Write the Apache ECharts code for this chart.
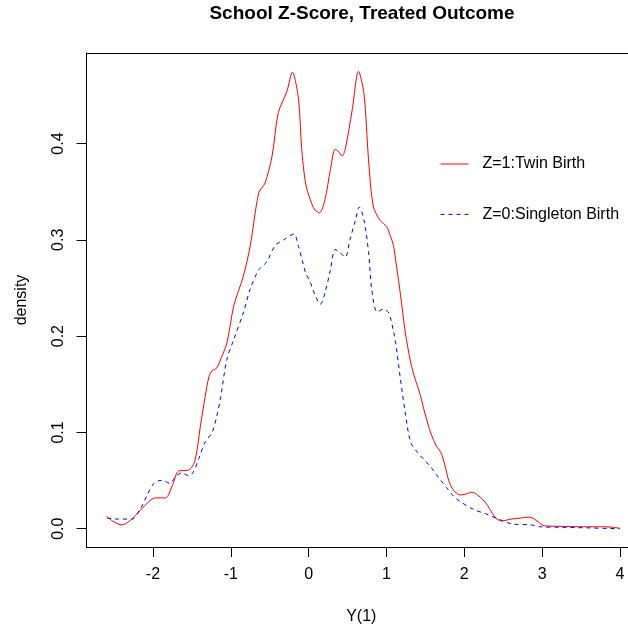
<!DOCTYPE html>
<html>
<head>
<meta charset="utf-8">
<script src="https://cdn.jsdelivr.net/npm/echarts@6/dist/echarts.min.js"></script>
<style>
  html, body { margin: 0; padding: 0; background: #fff; }
  #chart { width: 628px; height: 630px; }
</style>
</head>
<body>
<div id="chart"></div>
<script>
// density estimates
const twinX = [-2.60, -2.50, -2.40, -2.30, -2.20, -2.08, -1.97, -1.84, -1.75, -1.67, -1.54, -1.46, -1.39, -1.33,
  -1.28, -1.24, -1.18, -1.12, -1.05, -0.96, -0.84, -0.75, -0.64, -0.56, -0.47, -0.39, -0.28, -0.21, -0.13,
  -0.09, -0.04, 0.02, 0.08, 0.14, 0.21, 0.28, 0.34, 0.38, 0.43, 0.47, 0.56, 0.64, 0.71, 0.77, 0.83, 0.92,
  1.00, 1.05, 1.09, 1.13, 1.18, 1.24, 1.31, 1.37, 1.42, 1.48, 1.55, 1.58, 1.64, 1.70, 1.75, 1.80, 1.86,
  1.95, 2.02, 2.10, 2.17, 2.24, 2.30, 2.36, 2.42, 2.48, 2.60, 2.72, 2.82, 2.88, 2.95, 3.03, 3.23, 3.53,
  3.79, 3.90, 4.00]
const twinY = [0.013, 0.007, 0.004, 0.008, 0.016, 0.026, 0.032, 0.032, 0.045, 0.060, 0.061, 0.071, 0.107, 0.137,
  0.158, 0.164, 0.167, 0.178, 0.193, 0.232, 0.262, 0.294, 0.349, 0.359, 0.387, 0.432, 0.454, 0.474, 0.446,
  0.395, 0.359, 0.342, 0.331, 0.328, 0.342, 0.373, 0.394, 0.392, 0.387, 0.394, 0.435, 0.475, 0.452, 0.383, 0.335, 0.320,
  0.314, 0.304, 0.294, 0.272, 0.243, 0.205, 0.173, 0.155, 0.143, 0.124, 0.104, 0.097, 0.086, 0.079, 0.066, 0.050, 0.040,
  0.035, 0.036, 0.038, 0.035, 0.030, 0.024, 0.016, 0.010, 0.008, 0.010, 0.011, 0.012, 0.011, 0.007, 0.003, 0.0025, 0.002,
  0.002, 0.0015, 0.0005]

const singleX = [-2.59, -2.46, -2.27, -2.16, -2.08, -1.99, -1.91, -1.84, -1.78, -1.71, -1.63, -1.54, -1.48, -1.41,
  -1.33, -1.24, -1.18, -1.13, -1.05, -0.96, -0.84, -0.75, -0.64, -0.54, -0.43, -0.32, -0.19, -0.13, -0.08,
  -0.04, 0.02, 0.085, 0.15, 0.21, 0.28, 0.34, 0.40, 0.47, 0.53, 0.60, 0.65, 0.71, 0.77, 0.81, 0.88, 0.96,
  1.03, 1.09, 1.12, 1.18, 1.24, 1.31, 1.40, 1.48, 1.57, 1.67, 1.77, 1.87, 1.95, 2.12, 2.29, 2.44, 2.61,
  2.85, 2.97, 3.23, 3.62, 3.83, 4.00]
const singleY = [0.011, 0.010, 0.010, 0.021, 0.034, 0.047, 0.050, 0.049, 0.047, 0.054, 0.058, 0.055, 0.059, 0.073,
  0.090, 0.100, 0.117, 0.137, 0.176, 0.197, 0.224, 0.249, 0.269, 0.277, 0.294, 0.300, 0.306, 0.293, 0.278,
  0.266, 0.256, 0.242, 0.233, 0.245, 0.269, 0.290, 0.287, 0.282, 0.300, 0.320, 0.334, 0.321, 0.287, 0.249, 0.225, 0.228,
  0.224, 0.205, 0.192, 0.155, 0.121, 0.090, 0.079, 0.072, 0.064, 0.053, 0.043, 0.033, 0.028, 0.020, 0.015, 0.010, 0.005,
  0.004, 0.002, 0.0015, 0.0008, 0.0003, 0.0]

const xTicks = [-2, -1, 0, 1, 2, 3, 4]
const yTicks = [0, 0.1, 0.2, 0.3, 0.4]

const font = '"Liberation Sans", Arial, Helvetica, sans-serif'

function pairs(xs, ys) {
  return xs.map((x, i) => [x, ys[i]])
}

const chart = echarts.init(document.getElementById('chart'), null, { renderer: 'canvas' })

// plot box runs past the right edge of the picture, so x max is where the canvas ends
const xMin = -2.854
const xMax = 4.103

chart.setOption({
  animation: false,
  backgroundColor: '#fff',
  title: {
    text: 'School Z-Score, Treated Outcome',
    left: 362,
    top: 4,
    padding: 0,
    textAlign: 'center',
    textStyle: { fontFamily: font, fontSize: 19, fontWeight: 'bold', color: '#000' }
  },
  legend: {
    orient: 'vertical',
    left: 440,
    top: 156,
    itemWidth: 28,
    itemHeight: 14,
    itemGap: 34.4,
    padding: 0,
    itemStyle: { opacity: 0 },
    lineStyle: { width: 1 },
    textStyle: { fontFamily: font, fontSize: 16, color: '#000', padding: [0, 0, 0, 9] },
    data: ['Z=1:Twin Birth', 'Z=0:Singleton Birth']
  },
  grid: {
    left: 86.5,
    top: 53,
    right: 0,
    height: 495,
    show: false
  },
  xAxis: [
    {
      type: 'value',
      min: xMin,
      max: xMax,
      name: 'Y(1)',
      nameLocation: 'middle',
      nameGap: 62,
      nameTextStyle: { fontFamily: font, fontSize: 16, color: '#000', padding: [0, 0, 0, 8] },
      axisLine: { show: true, onZero: false, lineStyle: { color: '#000', width: 1 } },
      axisTick: { show: true, length: 10, lineStyle: { color: '#000' }, customValues: xTicks },
      axisLabel: {
        margin: 20,
        fontFamily: font, fontSize: 16, color: '#000',
        customValues: xTicks,
        formatter: v => String(v)
      },
      splitLine: { show: false }
    },
    {
      // top edge of the plot box
      type: 'value',
      position: 'top',
      min: xMin,
      max: xMax,
      axisLine: { show: true, onZero: false, lineStyle: { color: '#000', width: 1 } },
      axisTick: { show: false },
      axisLabel: { show: false },
      splitLine: { show: false }
    }
  ],
  yAxis: {
    type: 'value',
    min: -0.019,
    max: 0.494,
    name: 'density',
    nameLocation: 'middle',
    nameGap: 57,
    nameRotate: 90,
    nameTextStyle: { fontFamily: font, fontSize: 16, color: '#000' },
    axisLine: { show: true, onZero: false, lineStyle: { color: '#000', width: 1 } },
    axisTick: { show: true, length: 10, lineStyle: { color: '#000' }, customValues: yTicks },
    axisLabel: {
      margin: 20,
      rotate: 90,
      fontFamily: font, fontSize: 16, color: '#000',
      customValues: yTicks,
      formatter: v => v.toFixed(1)
    },
    splitLine: { show: false }
  },
  series: [
    {
      name: 'Z=1:Twin Birth',
      type: 'line',
      data: pairs(twinX, twinY),
      symbol: 'none',
      smooth: 0.3,
      lineStyle: { color: '#ff0000', width: 1 },
      itemStyle: { color: '#ff0000' }
    },
    {
      name: 'Z=0:Singleton Birth',
      type: 'line',
      data: pairs(singleX, singleY),
      symbol: 'none',
      smooth: 0.3,
      lineStyle: { color: '#0000ff', width: 1, type: [4, 4] },
      itemStyle: { color: '#0000ff' }
    }
  ]
})
</script>
</body>
</html>
